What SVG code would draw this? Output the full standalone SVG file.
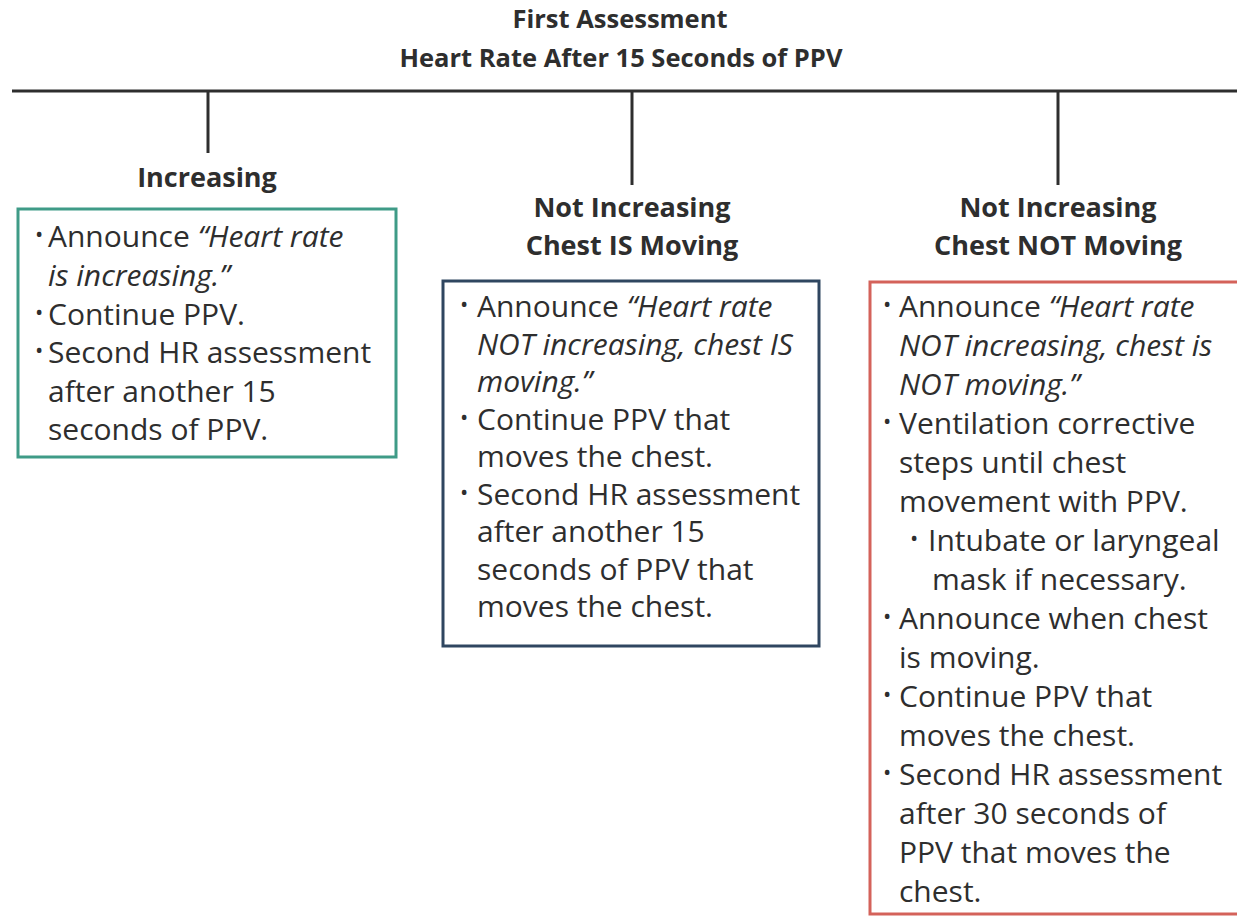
<svg xmlns="http://www.w3.org/2000/svg" width="1237" height="916" viewBox="0 0 1237 916">
<style>
.t{font-family:"Open Sans","Noto Sans",sans-serif;fill:#2e2e2e}
.h{font-weight:bold;font-size:27px;text-anchor:middle}
.ti{font-size:25.5px}
.b{font-size:30px}
.i{font-style:italic}
.bul{font-size:22px}
.ln{stroke:#2e2e2e;stroke-width:3;fill:none}
</style>
<rect width="1237" height="916" fill="#ffffff"/>
<g id="title" class="t">
<text class="t h ti" x="620" y="28">First Assessment</text>
<text class="t h ti" x="621" y="67">Heart Rate After 15 Seconds of PPV</text>
</g>
<g id="connectors">
<line class="ln" x1="12" y1="91" x2="1237" y2="91"/>
<line class="ln" x1="208" y1="91" x2="208" y2="153"/>
<line class="ln" x1="632" y1="91" x2="632" y2="185"/>
<line class="ln" x1="1058" y1="91" x2="1058" y2="185"/>
</g>
<g id="increasing">
<text class="t h" x="207" y="187">Increasing</text>
<rect x="18" y="209" width="378" height="248" fill="none" stroke="#3f9b87" stroke-width="3"/>
<g class="t b">
<text class="bul" x="35" y="242">•</text>
<text x="48" y="247">Announce <tspan class="i">“Heart rate</tspan></text>
<text x="48" y="286" class="i">is increasing.”</text>
<text class="bul" x="35" y="320">•</text>
<text x="48" y="325">Continue PPV.</text>
<text class="bul" x="35" y="358">•</text>
<text x="48" y="363">Second HR assessment</text>
<text x="48" y="402">after another 15</text>
<text x="48" y="440">seconds of PPV.</text>
</g>
</g>
<g id="chest-is-moving">
<text class="t h" x="632" y="217">Not Increasing</text>
<text class="t h" x="632" y="255">Chest IS Moving</text>
<rect x="443" y="281" width="376" height="365" fill="none" stroke="#2f4660" stroke-width="3"/>
<g class="t b">
<text class="bul" x="460" y="312">•</text>
<text x="477" y="317">Announce <tspan class="i">“Heart rate</tspan></text>
<text x="477" y="354.5" class="i">NOT increasing, chest IS</text>
<text x="477" y="392" class="i">moving.”</text>
<text class="bul" x="460" y="424.5">•</text>
<text x="477" y="429.5">Continue PPV that</text>
<text x="477" y="467">moves the chest.</text>
<text class="bul" x="460" y="499.5">•</text>
<text x="477" y="504.5">Second HR assessment</text>
<text x="477" y="542">after another 15</text>
<text x="477" y="579.5">seconds of PPV that</text>
<text x="477" y="617">moves the chest.</text>
</g>
</g>
<g id="chest-not-moving">
<text class="t h" x="1058" y="217">Not Increasing</text>
<text class="t h" x="1058" y="255">Chest NOT Moving</text>
<rect x="870" y="282" width="370" height="632" fill="none" stroke="#d4625a" stroke-width="3"/>
<g class="t b">
<text class="bul" x="883" y="312">•</text>
<text x="899" y="317">Announce <tspan class="i">“Heart rate</tspan></text>
<text x="899" y="356" class="i">NOT increasing, chest is</text>
<text x="899" y="395" class="i">NOT moving.”</text>
<text class="bul" x="883" y="429">•</text>
<text x="899" y="434">Ventilation corrective</text>
<text x="899" y="473">steps until chest</text>
<text x="899" y="512">movement with PPV.</text>
<text class="bul" x="910" y="546">•</text>
<text x="928" y="551">Intubate or laryngeal</text>
<text x="932" y="590">mask if necessary.</text>
<text class="bul" x="883" y="624">•</text>
<text x="899" y="629">Announce when chest</text>
<text x="899" y="668">is moving.</text>
<text class="bul" x="883" y="702">•</text>
<text x="899" y="707">Continue PPV that</text>
<text x="899" y="746">moves the chest.</text>
<text class="bul" x="883" y="780">•</text>
<text x="899" y="785">Second HR assessment</text>
<text x="899" y="824">after 30 seconds of</text>
<text x="899" y="863">PPV that moves the</text>
<text x="899" y="902">chest.</text>
</g>
</g>
</svg>
